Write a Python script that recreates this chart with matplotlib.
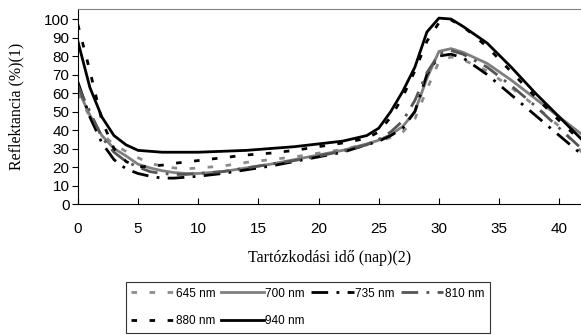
import numpy as np
import matplotlib.pyplot as plt

days = [0, 1, 2, 3, 4, 5, 6, 7, 8, 9, 10, 12, 14, 16, 18, 20, 22, 24, 25, 26,
        27, 28, 29, 30, 31, 32, 34, 36, 38, 40, 42]

r645 = [60, 47, 38, 32, 28.5, 25, 22, 20.5, 19.5, 19, 19.5, 20.5, 22.5, 24, 25.5, 27.5,
        29.5, 32.5, 34, 36, 39, 46, 62, 77, 79.5, 78, 72, 63, 53, 42, 27]
r700 = [62, 48, 37, 30, 26, 21.5, 19.5, 18, 17, 16.5, 16.5, 17.5, 19.5, 21.5, 24, 26.5,
        29, 32.5, 34.5, 37.5, 42, 50, 68, 82.5, 84, 82, 76, 67, 57, 47, 37]
r735 = [66, 47, 33, 24, 19, 16.5, 15, 14, 14, 14.5, 15, 16.5, 18.5, 20.5, 23, 25.5,
        28, 32, 34, 37, 41, 50, 70, 80, 81, 79, 70, 59, 48, 37, 26]
r810 = [64, 50, 36, 28, 23, 20, 17.5, 16.5, 16, 16, 16.5, 17.5, 19.5, 21.5, 23.5, 26,
        28.5, 32, 35, 39, 45, 56, 71, 81, 83, 81, 74, 64, 53, 41, 29]
r880 = [97, 72, 45, 30, 23, 20, 20.5, 21, 22, 22.7, 23.5, 25, 26.5, 27.5, 29, 31,
        33, 35.5, 39, 47, 58, 72, 88, 98, 99.5, 96, 85, 71.5, 58, 45, 33]
r940 = [88, 63, 47, 37, 32, 29, 28.5, 28, 28, 28, 28, 28.5, 29, 30, 31, 32.5,
        34, 37, 41, 50, 61, 74, 93, 100.5, 100, 96, 87, 74, 60, 47, 34]

labels = ['645 nm', '700 nm', '735 nm', '810 nm', '880 nm', '940 nm']
series = [r645, r700, r735, r810, r880, r940]
colors = ['#8c8c8c', '#7f7f7f', 'black', '#555555', 'black', 'black']
styles = [(0, (2, 4.5)), '-', (0, (6, 3, 1, 3)), (0, (6, 3, 1, 3)),
          (0, (2, 4.5)), '-']

fig = plt.figure(figsize=(5.81, 3.35), dpi=100)
ax = fig.add_axes([0.134, 0.391, 0.866, 0.582])

lines = []
for y, lab, c, ls in zip(series, labels, colors, styles):
    ln, = ax.plot(days, y, color=c, linestyle=ls, linewidth=2, label=lab)
    lines.append(ln)

ax.set_xlim(0, 41.8)
ax.set_ylim(0, 105.4)
ax.set_xticks(range(0, 45, 5))
ax.set_yticks(range(0, 101, 10))
ax.tick_params(axis='x', direction='in', length=4, labelsize=11, pad=13)
ax.tick_params(axis='y', direction='out', length=4, labelsize=11, pad=2)
for t in ax.get_xticklabels() + ax.get_yticklabels():
    t.set_fontfamily('Liberation Sans')

ax.spines['right'].set_visible(False)
ax.spines['top'].set_color('#808080')
ax.spines['left'].set_color('black')
ax.spines['bottom'].set_color('black')

ax.set_xlabel('Tartózkodási idő (nap)(2)', fontfamily='Liberation Serif', fontsize=11.5,
              labelpad=10)
ax.set_ylabel('Reflektancia (%)(1)', fontfamily='Liberation Serif', fontsize=11.5,
              labelpad=14)

# matplotlib fills the legend column by column; reorder so rows read 645..810 / 880, 940
order = [0, 4, 1, 5, 2, 3]
leg = fig.legend([lines[i] for i in order], [labels[i] for i in order],
                 loc='center', bbox_to_anchor=(0.53, 0.083), ncol=4,
                 prop={'family': 'Liberation Sans', 'size': 8.5},
                 handlelength=3.6, handletextpad=0.15, columnspacing=0.5,
                 labelspacing=1.3, borderpad=0.5, frameon=True, fancybox=False)
leg.get_frame().set_edgecolor('black')
leg.get_frame().set_linewidth(0.8)

fig.savefig('out.png', dpi=100)
